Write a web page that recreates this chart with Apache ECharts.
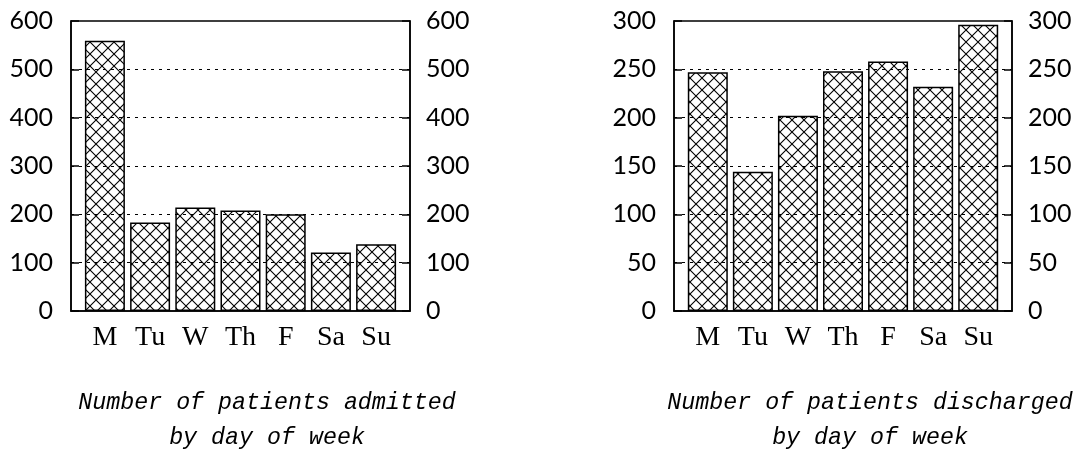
<!DOCTYPE html>
<html>
<head>
<meta charset="utf-8">
<script src="https://cdn.jsdelivr.net/npm/echarts@6/dist/echarts.min.js"></script>
<style>html,body{margin:0;padding:0;background:#fff}#c{width:1075px;height:453px}</style>
</head>
<body>
<div id="c"></div>
<script>
const categories = ['M', 'Tu', 'W', 'Th', 'F', 'Sa', 'Su'];
const admitted = [559, 183, 214, 208, 200, 121, 138];
const discharged = [247, 144, 202, 248, 258, 232, 296];
const admittedTicks = [0, 100, 200, 300, 400, 500, 600];
const dischargedTicks = [0, 50, 100, 150, 200, 250, 300];
const titleLeft = 'Number of patients admitted\nby day of week';
const titleRight = 'Number of patients discharged\nby day of week';

function hatch() {
  const s = 12;
  const cv = document.createElement('canvas');
  cv.width = s; cv.height = s;
  const g = cv.getContext('2d');
  g.fillStyle = '#fff'; g.fillRect(0, 0, s, s);
  g.strokeStyle = '#000'; g.lineWidth = 1.1;
  g.beginPath();
  g.moveTo(-1, -1); g.lineTo(s + 1, s + 1);
  g.moveTo(-1, s + 1); g.lineTo(s + 1, -1);
  g.stroke();
  return cv;
}
const pattern = { image: hatch(), repeat: 'repeat' };

const chart = echarts.init(document.getElementById('c'), null, { renderer: 'canvas' });
const numFont = { fontFamily: 'Lato', fontSize: 25, color: '#000' };

function xAxis(gi) {
  return {
    type: 'value', gridIndex: gi, min: -0.75, max: 6.75,
    axisLine: { show: true, onZero: false, lineStyle: { color: '#000', width: 1.5 } },
    axisTick: { show: false },
    splitLine: { show: false },
    axisLabel: {
      customValues: categories.map((c, i) => i),
      formatter: v => categories[Math.round(v)],
      fontFamily: 'Liberation Serif', fontSize: 28, color: '#000', margin: 13
    }
  };
}
function yAxis(gi, pos, ticks, split) {
  return {
    type: 'value', gridIndex: gi, position: pos,
    min: ticks[0], max: ticks[ticks.length - 1], interval: ticks[1] - ticks[0],
    z: 5,
    axisLine: { show: true, onZero: false, lineStyle: { color: '#000', width: 1.5 } },
    axisTick: { show: true, inside: true, length: 8, lineStyle: { color: '#000', width: 1.5 } },
    axisLabel: Object.assign({ margin: pos === 'left' ? 18 : 16 }, numFont),
    splitLine: { show: split, showMinLine: false, showMaxLine: false, lineStyle: { color: '#000', width: 1, type: [3, 5] } }
  };
}
function bars(vals, xi, yi) {
  return {
    type: 'bar', xAxisIndex: xi, yAxisIndex: yi,
    barWidth: 40,
    data: vals.map((v, i) => [i, v]),
    itemStyle: { color: pattern, borderColor: '#000', borderWidth: 1.5 },
    silent: true, animation: false
  };
}
const titleStyle = { fontFamily: 'Liberation Mono', fontStyle: 'italic', fontWeight: 'normal', fontSize: 23.3, lineHeight: 35, color: '#000' };

chart.setOption({
  animation: false,
  backgroundColor: '#fff',
  title: [
    { text: titleLeft, left: 262, top: 380, textAlign: 'center', textStyle: titleStyle },
    { text: titleRight, left: 865, top: 380, textAlign: 'center', textStyle: titleStyle }
  ],
  grid: [
    { left: 71, right: 665, top: 21, bottom: 142, show: true, borderColor: '#000', borderWidth: 1.5 },
    { left: 674, right: 63, top: 21, bottom: 142, show: true, borderColor: '#000', borderWidth: 1.5 }
  ],
  xAxis: [xAxis(0), xAxis(1)],
  yAxis: [
    yAxis(0, 'left', admittedTicks, true),
    yAxis(0, 'right', admittedTicks, false),
    yAxis(1, 'left', dischargedTicks, true),
    yAxis(1, 'right', dischargedTicks, false)
  ],
  series: [
    bars(admitted, 0, 0),
    bars(discharged, 1, 2)
  ]
});
</script>
</body>
</html>
